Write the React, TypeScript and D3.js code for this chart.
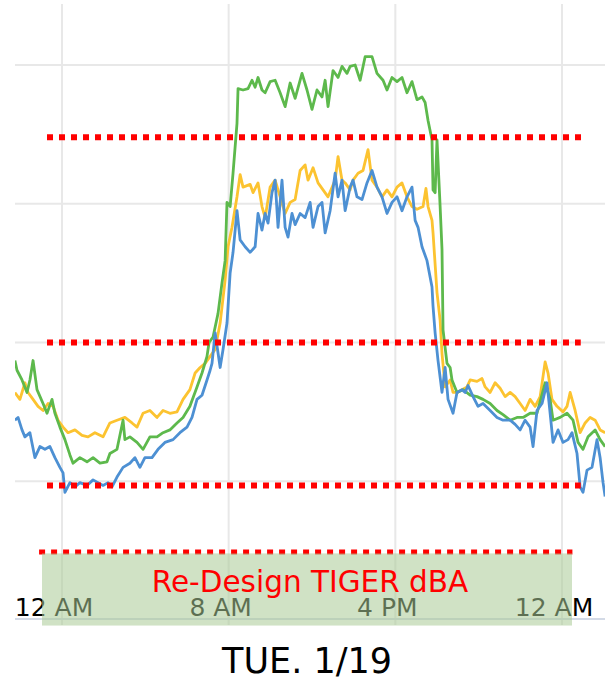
import React from "react";
import * as d3 from "d3";

// [hour from midnight, dBA]
const greenSeries: [number, number][] = [
  [-2.26, 58.7], [-2.16, 58.0], [-1.92, 57.3], [-1.68, 56.4], [-1.54, 57.3], [-1.39, 58.7], [-1.2, 56.6],
  [-0.91, 55.6], [-0.72, 54.9], [-0.48, 55.9], [-0.34, 54.9], [-0.1, 53.9], [0.14, 53.0], [0.38, 51.9],
  [0.53, 51.3], [0.86, 51.7], [1.2, 51.4], [1.49, 51.7], [1.82, 51.3], [2.16, 51.4], [2.3, 52.0],
  [2.64, 52.3], [2.93, 54.4], [3.02, 53.0], [3.26, 53.2], [3.6, 52.8], [3.89, 52.3], [4.22, 53.2],
  [4.56, 53.2], [4.85, 53.5], [5.18, 53.7], [5.52, 54.2], [5.81, 54.6], [6.14, 55.4], [6.48, 56.8],
  [6.72, 57.8], [6.96, 59.0], [7.06, 60.0], [7.25, 60.4], [7.49, 62.1], [7.68, 64.3], [7.83, 65.9],
  [7.92, 70.1], [8.07, 69.8], [8.21, 72.2], [8.4, 75.8], [8.45, 78.3], [8.69, 78.2], [8.93, 78.3],
  [9.12, 78.9], [9.27, 78.4], [9.41, 79.1], [9.6, 78.2], [9.75, 78.0], [9.99, 78.8], [10.23, 78.9],
  [10.47, 78.0], [10.71, 77.0], [10.95, 78.7], [11.19, 77.6], [11.52, 79.4], [11.76, 78.2], [12.0, 76.8],
  [12.24, 78.2], [12.48, 77.7], [12.63, 78.9], [12.77, 77.0], [13.01, 79.6], [13.25, 79.1], [13.44, 79.9],
  [13.68, 79.4], [13.83, 79.9], [14.07, 80.0], [14.31, 78.9], [14.55, 80.6], [14.88, 80.6], [15.12, 79.4],
  [15.41, 78.9], [15.6, 78.2], [15.84, 79.1], [16.08, 78.8], [16.32, 79.1], [16.56, 78.0], [16.8, 78.8],
  [17.04, 77.5], [17.28, 77.7], [17.43, 77.3], [17.57, 76.0], [17.76, 74.6], [17.81, 71.0], [17.91, 70.8],
  [18.0, 74.6], [18.15, 69.8], [18.24, 66.7], [18.29, 60.9], [18.48, 58.5], [18.63, 58.2], [18.72, 57.3],
  [18.96, 56.4], [19.25, 56.6], [19.59, 56.2], [19.92, 56.1], [20.21, 55.9], [20.55, 55.6], [20.88, 55.1],
  [21.17, 54.8], [21.51, 54.4], [21.84, 54.6], [22.13, 54.6], [22.47, 54.9], [22.8, 54.9], [23.19, 57.1],
  [23.43, 55.9], [23.57, 54.4], [23.91, 54.6], [24.24, 54.9], [24.53, 54.4], [24.77, 52.8], [25.01, 52.3],
  [25.25, 53.2], [25.59, 53.7], [25.83, 53.0], [26.07, 52.5],
];

const yellowSeries: [number, number][] = [
  [-2.26, 56.4], [-2.02, 55.9], [-1.78, 57.1], [-1.63, 56.4], [-1.39, 55.9], [-1.15, 55.4], [-0.91, 55.1],
  [-0.67, 55.6], [-0.43, 55.4], [-0.19, 54.4], [0.05, 53.9], [0.29, 53.5], [0.62, 53.7], [0.96, 53.3],
  [1.25, 53.2], [1.58, 53.5], [1.97, 53.2], [2.3, 54.2], [2.64, 54.4], [3.02, 54.6], [3.36, 54.2],
  [3.6, 53.9], [3.89, 54.9], [4.22, 55.1], [4.56, 54.6], [4.85, 55.1], [5.18, 54.9], [5.52, 55.0],
  [5.81, 55.9], [6.14, 56.6], [6.39, 57.8], [6.63, 58.2], [6.87, 58.5], [7.11, 59.0], [7.35, 59.5],
  [7.59, 61.4], [7.83, 64.5], [7.97, 66.9], [8.16, 68.3], [8.4, 70.5], [8.55, 72.1], [8.69, 71.2],
  [9.03, 71.4], [9.17, 70.8], [9.41, 71.5], [9.6, 69.8], [9.75, 69.0], [9.99, 71.2], [10.23, 71.7],
  [10.47, 70.5], [10.71, 69.3], [10.95, 70.1], [11.19, 70.3], [11.43, 72.4], [11.67, 72.8], [11.81, 71.7],
  [12.05, 72.6], [12.29, 71.5], [12.53, 71.0], [12.77, 70.5], [13.11, 71.7], [13.25, 73.4], [13.44, 71.7],
  [13.59, 71.5], [13.83, 71.0], [13.97, 71.7], [14.21, 72.2], [14.45, 72.4], [14.69, 73.9], [14.88, 71.7],
  [15.12, 71.2], [15.36, 70.5], [15.6, 71.0], [15.84, 70.5], [16.08, 71.2], [16.32, 71.5], [16.56, 70.5],
  [16.8, 69.8], [17.04, 69.6], [17.33, 69.8], [17.47, 71.1], [17.57, 69.8], [17.76, 68.8], [17.81, 67.9],
  [18.0, 63.6], [18.15, 61.6], [18.24, 59.2], [18.39, 56.8], [18.63, 57.3], [18.77, 56.4], [18.96, 56.4],
  [19.2, 56.6], [19.44, 56.8], [19.59, 57.3], [19.92, 57.2], [20.16, 57.4], [20.31, 56.8], [20.55, 56.4],
  [20.79, 57.1], [21.03, 56.7], [21.27, 56.1], [21.51, 56.4], [21.75, 56.1], [21.99, 55.6], [22.23, 55.1],
  [22.47, 55.9], [22.71, 55.4], [22.95, 56.1], [23.19, 58.6], [23.33, 57.8], [23.52, 55.9], [23.76, 55.4],
  [24.05, 55.0], [24.24, 55.4], [24.39, 56.4], [24.63, 55.1], [24.87, 53.5], [25.11, 54.2], [25.35, 54.6],
  [25.59, 54.4], [25.83, 53.7], [26.07, 53.5],
];

const blueSeries: [number, number][] = [
  [-2.26, 54.4], [-2.11, 54.6], [-1.92, 53.7], [-1.78, 53.2], [-1.54, 53.5], [-1.3, 51.7], [-1.06, 52.5],
  [-0.82, 52.3], [-0.58, 52.5], [-0.34, 51.7], [-0.1, 51.0], [0.05, 50.6], [0.14, 49.2], [0.38, 49.9],
  [0.62, 49.6], [0.86, 49.9], [1.2, 49.7], [1.49, 50.1], [1.73, 49.9], [1.97, 49.7], [2.21, 49.9],
  [2.4, 49.6], [2.64, 50.3], [2.93, 51.0], [3.26, 51.3], [3.5, 51.7], [3.74, 51.0], [3.98, 51.7],
  [4.32, 51.7], [4.61, 52.3], [4.94, 52.8], [5.33, 53.0], [5.66, 53.5], [6.0, 53.9], [6.24, 54.6],
  [6.48, 55.9], [6.72, 56.2], [6.96, 57.3], [7.11, 58.0], [7.2, 58.5], [7.35, 60.7], [7.59, 58.2],
  [7.73, 59.5], [7.92, 61.4], [8.07, 65.0], [8.21, 66.5], [8.4, 69.5], [8.55, 67.4], [8.79, 66.9],
  [9.03, 66.5], [9.27, 66.9], [9.41, 69.3], [9.6, 68.1], [9.75, 69.3], [9.89, 68.6], [10.08, 70.8],
  [10.23, 71.7], [10.37, 68.3], [10.56, 71.7], [10.71, 68.3], [10.85, 67.6], [11.04, 69.3], [11.19, 68.5],
  [11.43, 69.3], [11.67, 69.0], [11.91, 70.1], [12.05, 68.3], [12.29, 69.8], [12.48, 70.1], [12.63, 67.9],
  [12.87, 69.5], [13.11, 72.2], [13.25, 70.5], [13.44, 71.7], [13.59, 69.5], [13.83, 71.2], [13.97, 71.7],
  [14.16, 70.5], [14.4, 70.3], [14.64, 71.5], [14.88, 72.4], [15.12, 71.2], [15.36, 70.5], [15.6, 69.3],
  [15.84, 70.1], [16.08, 70.5], [16.32, 69.5], [16.56, 70.5], [16.8, 71.2], [16.95, 68.8], [17.09, 68.3],
  [17.28, 66.9], [17.52, 65.9], [17.76, 64.0], [17.81, 62.6], [17.91, 60.7], [18.05, 58.7], [18.24, 56.4],
  [18.39, 58.2], [18.53, 55.9], [18.77, 54.9], [18.96, 56.4], [19.2, 56.6], [19.35, 56.4], [19.49, 56.9],
  [19.73, 56.1], [19.97, 55.4], [20.21, 55.6], [20.55, 55.1], [20.88, 54.6], [21.17, 54.4], [21.51, 54.4],
  [21.75, 54.1], [21.99, 53.7], [22.23, 54.4], [22.47, 53.9], [22.61, 52.5], [22.8, 55.1], [23.04, 55.6],
  [23.28, 57.1], [23.43, 54.9], [23.57, 52.8], [23.81, 53.7], [24.05, 52.8], [24.29, 53.0], [24.48, 53.5],
  [24.72, 52.0], [24.87, 49.6], [25.01, 49.2], [25.2, 50.8], [25.44, 51.0], [25.68, 53.0], [25.83, 51.7],
  [25.97, 49.9], [26.07, 48.9],
];

const xTickHours = [0, 8, 16, 24];
const xTickLabels = ["12 AM", "8 AM", "4 PM", "12 AM"];
const yGridValues = [80, 70, 60, 50];
// [dBA level, start hour, end hour]
const thresholdLines: [number, number, number][] = [
  [74.8, -0.72, 24.95],
  [60.0, -0.72, 24.9],
  [49.7, -0.72, 24.9],
  [44.9, -1.1, 24.5],
];
const bandHours = [-0.96, 24.48];
const bandLevels = [39.6, 44.8];
const bandLabel = "Re-Design TIGER dBA";
const dateLabel = "TUE. 1/19";

const W = 605;
const H = 684;

export default function App() {
  const x = d3.scaleLinear().domain([0, 24]).range([62, 562]);
  const y = d3.scaleLinear().domain([40, 80]).range([620, 65]);
  const plotLeft = 15;
  const plotRight = W;
  const plotTop = 4;
  const line = d3
    .line<[number, number]>()
    .x((d) => x(d[0]))
    .y((d) => y(d[1]));

  const series = [
    { data: yellowSeries, color: "#fcc330" },
    { data: greenSeries, color: "#5db94c" },
    { data: blueSeries, color: "#4d90d3" },
  ];

  return (
    <svg
      width={W}
      height={H}
      style={{ position: "absolute", left: 0, top: 0, background: "#fff" }}
      fontFamily="'DejaVu Sans', sans-serif"
    >
      <defs>
        <clipPath id="plotClip">
          <rect x={plotLeft} y={plotTop} width={plotRight - plotLeft} height={y(40) - plotTop} />
        </clipPath>
      </defs>
      {/* horizontal gridlines */}
      {yGridValues.map((v) => (
        <line key={"h" + v} x1={plotLeft} x2={plotRight} y1={y(v)} y2={y(v)} stroke="#e8e8e8" strokeWidth={2} />
      ))}
      {/* vertical gridlines */}
      {xTickHours.map((h) => (
        <line key={"v" + h} x1={x(h)} x2={x(h)} y1={plotTop} y2={y(40) + 5} stroke="#e8e8e8" strokeWidth={2} />
      ))}
      {/* baseline axis */}
      <line x1={plotLeft} x2={plotRight} y1={y(40) - 1} y2={y(40) - 1} stroke="#d3dae6" strokeWidth={2} />

      {/* data lines */}
      <g clipPath="url(#plotClip)">
        {series.map((s, i) => (
          <path
            key={i}
            d={line(s.data) || ""}
            fill="none"
            stroke={s.color}
            strokeWidth={2.8}
            strokeLinejoin="round"
          />
        ))}
      </g>

      {/* threshold lines */}
      {thresholdLines.map(([v, h0, h1], i) => (
        <line
          key={"t" + i}
          x1={x(h0)}
          x2={x(h1)}
          y1={y(v)}
          y2={y(v)}
          stroke="#ff0000"
          strokeWidth={i === 3 ? 5 : 6}
          strokeDasharray="6 6"
        />
      ))}

      {/* tick labels */}
      {xTickHours.map((h, i) => (
        <text key={"l" + i} x={x(h) - 8} y={616} textAnchor="middle" fontSize={25} fill="#000">
          {xTickLabels[i]}
        </text>
      ))}

      {/* green band */}
      <rect
        x={x(bandHours[0])}
        y={y(bandLevels[1])}
        width={x(bandHours[1]) - x(bandHours[0])}
        height={y(bandLevels[0]) - y(bandLevels[1])}
        fill="rgb(170,202,150)"
        fillOpacity={0.55}
      />
      <text x={310} y={592} textAnchor="middle" fontSize={29.5} fill="#ff0000">
        {bandLabel}
      </text>

      <text x={307} y={673} textAnchor="middle" fontSize={35} fill="#000">
        {dateLabel}
      </text>
    </svg>
  );
}
